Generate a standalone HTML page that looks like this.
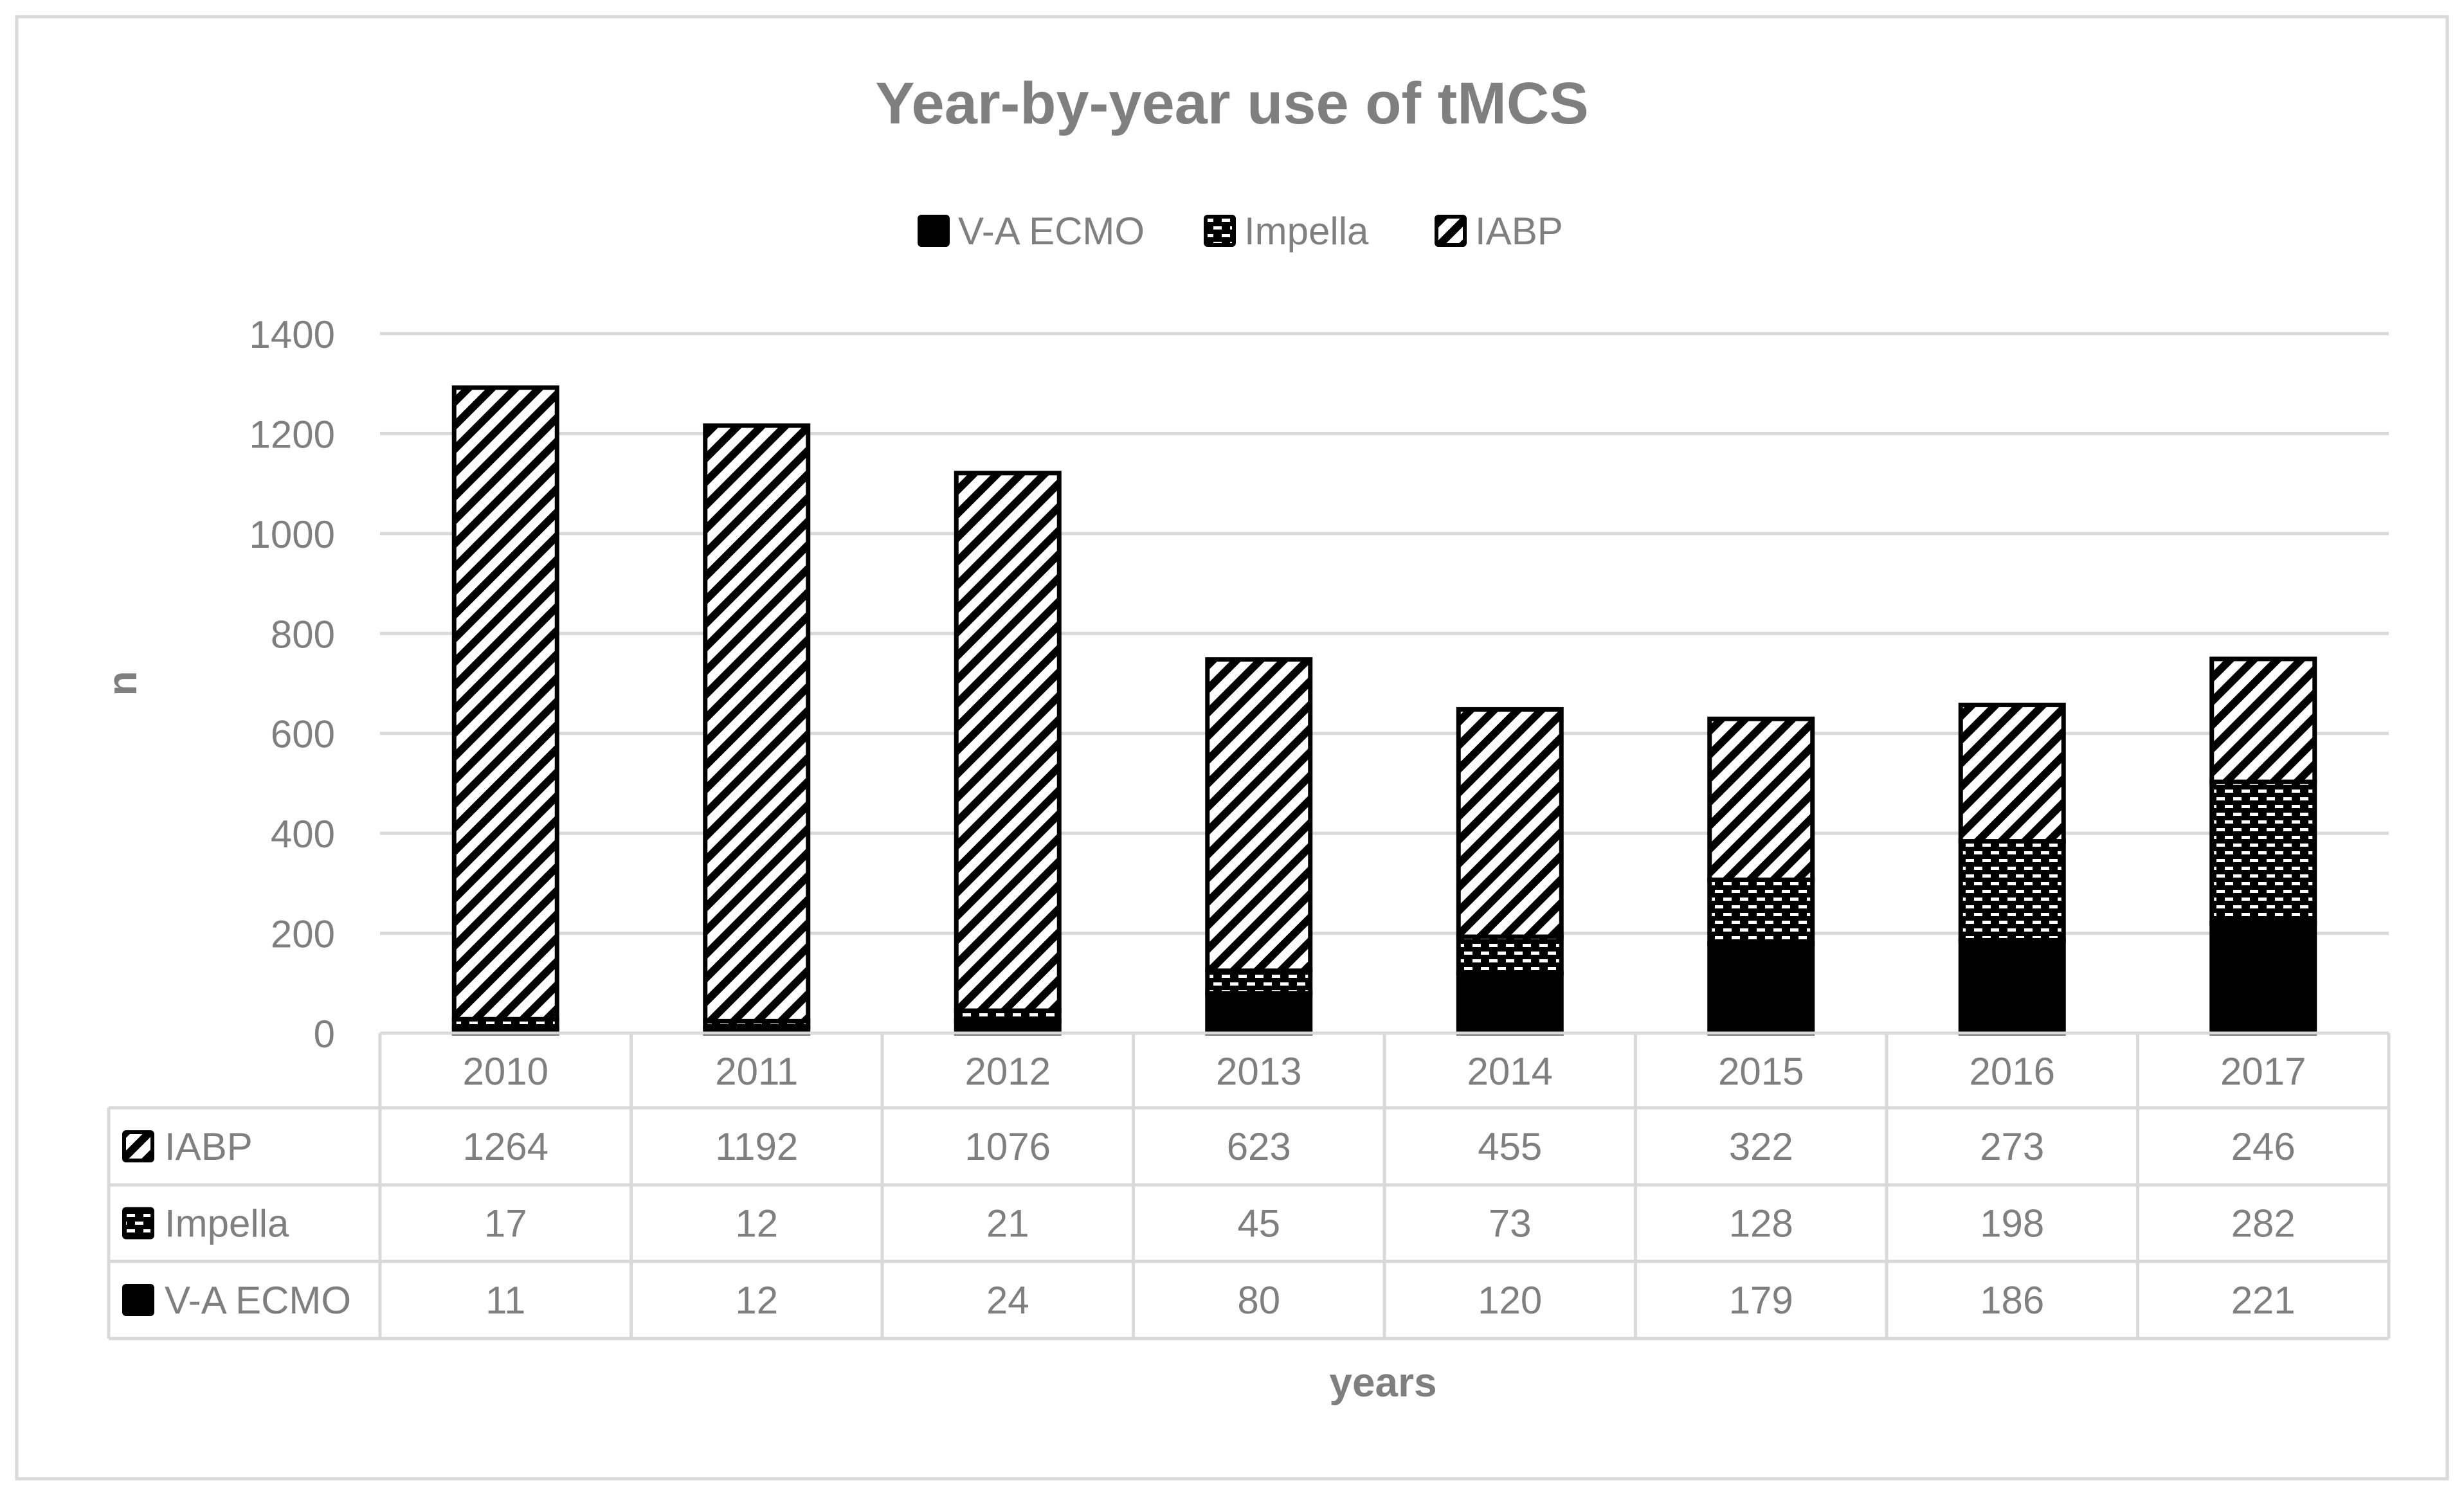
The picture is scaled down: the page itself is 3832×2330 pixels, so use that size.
<!DOCTYPE html>
<html><head><meta charset="utf-8"><style>
html,body{margin:0;padding:0;background:#fff;}
svg{display:block;font-family:"Liberation Sans",Arial,sans-serif;}
</style></head><body>
<svg id="chart" width="3832" height="2330" viewBox="0 0 3832 2330" xmlns="http://www.w3.org/2000/svg">
<defs>
<pattern id="diag" patternUnits="userSpaceOnUse" width="26" height="26" patternTransform="rotate(45)">
<rect width="26" height="26" fill="#fff"/><rect x="0" y="0" width="12" height="26" fill="#000"/>
</pattern>
<pattern id="dots" patternUnits="userSpaceOnUse" width="26" height="24">
<rect width="26" height="24" fill="#000"/><rect x="2" y="4" width="13" height="5" fill="#fff"/><rect x="15" y="16" width="13" height="5" fill="#fff"/><rect x="-11" y="16" width="13" height="5" fill="#fff"/>
</pattern>
</defs>
<rect x="26" y="26" width="3780" height="2274" fill="#fff" stroke="#d9d9d9" stroke-width="5"/>
<text x="1916" y="192" text-anchor="middle" font-size="92" font-weight="bold" fill="#7f7f7f">Year-by-year use of tMCS</text>
<g id="legend"></g>
<g id="grid"></g><g id="bars"></g><g id="table"></g>
<text transform="translate(212,1063) rotate(-90)" text-anchor="middle" font-size="64" font-weight="bold" fill="#7f7f7f">n</text>
<text x="2151" y="2172" text-anchor="middle" font-size="64" font-weight="bold" fill="#7f7f7f">years</text>
</svg>
<script>
const categories=["2010","2011","2012","2013","2014","2015","2016","2017"];
const ecmo=[11,12,24,80,120,179,186,221];
const impella=[17,12,21,45,73,128,198,282];
const iabp=[1264,1192,1076,623,455,322,273,246];
const yTicks=[0,200,400,600,800,1000,1200,1400];
const seriesNames=["V-A ECMO","Impella","IABP"];

const NS="http://www.w3.org/2000/svg";
const X0=591,X1=3715,Y0=1607,Y1400=519;
const cw=(X1-X0)/categories.length;
function y(v){return Y0-(v/1400)*(Y0-Y1400);}
function xc(i){return X0+cw*(i+0.5);}
function mk(tag,attrs,parent){const e=document.createElementNS(NS,tag);for(const k in attrs)e.setAttribute(k,attrs[k]);parent.appendChild(e);return e;}
const grid=document.getElementById('grid'),bars=document.getElementById('bars'),table=document.getElementById('table'),legend=document.getElementById('legend');
yTicks.forEach(t=>{
  if(t>0){const l=mk('line',{x1:X0,x2:X1,y1:y(t),y2:y(t),stroke:'#d9d9d9','stroke-width':5},grid);
  
  }
  const tx=mk('text',{x:521,y:y(t)+22,'text-anchor':'end','font-size':60,fill:'#7f7f7f'},grid);
  tx.textContent=t;
  
  
});
const fills=['#000','url(#dots)','url(#diag)'];
const series=[ecmo,impella,iabp];
const bw=160;
categories.forEach((c,i)=>{
  let base=0;
  series.forEach((s,k)=>{
    const top=base+s[i];
    const r=mk('rect',{x:xc(i)-bw/2,y:y(top),width:bw,height:y(base)-y(top),fill:fills[k],stroke:'#000','stroke-width':7},bars);
    
    
    base=top;
  });
});
// table
const rowsY=[1607,1723,1843,1962,2082];
const L=169;
const ls={stroke:'#d9d9d9','stroke-width':5};
mk('line',Object.assign({x1:X0,x2:X1,y1:Y0,y2:Y0},ls),table);
for(let r=1;r<rowsY.length;r++){mk('line',Object.assign({x1:L,x2:X1,y1:rowsY[r],y2:rowsY[r]},ls),table);}
mk('line',Object.assign({x1:L,x2:L,y1:rowsY[1],y2:rowsY[4]},ls),table);
for(let i=0;i<=categories.length;i++){const x=X0+cw*i;mk('line',Object.assign({x1:x,x2:x,y1:Y0,y2:rowsY[4]},ls),table);}
categories.forEach((c,i)=>{
  const t=mk('text',{x:xc(i),y:1687,'text-anchor':'middle','font-size':60,fill:'#7f7f7f'},table);
  t.textContent=c;
  
  
});
const tableRows=[[iabp,'IABP',2],[impella,'Impella',1],[ecmo,'V-A ECMO',0]];
tableRows.forEach((row,r)=>{
  const cy=(rowsY[r+1]+rowsY[r+2])/2;
  const ic=mk('rect',{x:193,y:cy-22,width:44,height:44,fill:fills[row[2]],stroke:'#000','stroke-width':6,rx:3},table);
  
  
  const lt=mk('text',{x:256,y:cy+21,'font-size':60,fill:'#7f7f7f'},table);
  lt.textContent=row[1];
  
  
  categories.forEach((c,i)=>{
    const t=mk('text',{x:xc(i),y:cy+21,'text-anchor':'middle','font-size':60,fill:'#7f7f7f'},table);
    t.textContent=row[0][i];
    
    
  });
});
// legend
const legX=[1430,1875,2234];
seriesNames.forEach((n,k)=>{
  const r=mk('rect',{x:legX[k],y:337,width:44,height:44,fill:fills[k],stroke:'#000','stroke-width':6,rx:3},legend);
  
  
  const t=mk('text',{x:legX[k]+60,y:380,'font-size':60,fill:'#7f7f7f'},legend);
  t.textContent=n;
  
  
});
</script>
</body></html>
